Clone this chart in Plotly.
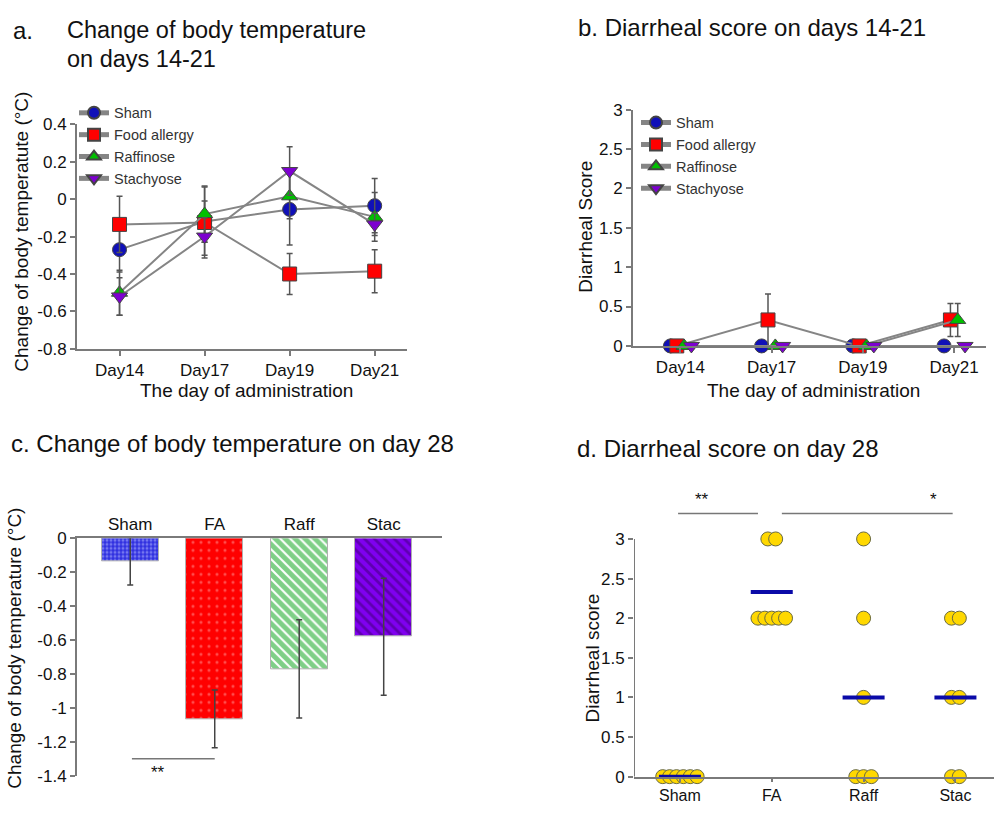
import plotly.graph_objects as go

# ---------------- data ----------------
days = ["Day14", "Day17", "Day19", "Day21"]
series_names = ["Sham", "Food allergy", "Raffinose", "Stachyose"]

# panel a: change of body temperature, days 14-21
temp_sham = [-0.27, -0.12, -0.055, -0.035]
temp_sham_err = [0.12, 0.11, 0.19, 0.145]
temp_fa = [-0.135, -0.125, -0.40, -0.385]
temp_fa_err = [0.15, 0.19, 0.11, 0.115]
temp_raff = [-0.50, -0.08, 0.015, -0.095]
temp_raff_err = [0.12, 0.15, 0.12, 0.13]
temp_stac = [-0.52, -0.20, 0.15, -0.135]
temp_stac_err = [0.10, 0.10, 0.13, 0.06]

# panel b: diarrheal score, days 14-21
score_sham = [0, 0, 0, 0]
score_sham_err = [0, 0, 0, 0]
score_fa = [0, 0.33, 0, 0.33]
score_fa_err = [0, 0.33, 0, 0.21]
score_raff = [0, 0, 0, 0.33]
score_raff_err = [0, 0, 0, 0.21]
score_stac = [0, 0, 0, 0]
score_stac_err = [0, 0, 0, 0]

# panel c: change of body temperature on day 28
groups = ["Sham", "FA", "Raff", "Stac"]
temp28 = [-0.135, -1.065, -0.77, -0.58]
temp28_err = [0.14, 0.17, 0.29, 0.345]

# panel d: diarrheal score on day 28 (individual animals)
d28_sham = [0, 0, 0, 0, 0, 0]
d28_fa = [3, 3, 2, 2, 2, 2, 2]
d28_raff = [3, 2, 1, 0, 0, 0]
d28_stac = [2, 2, 1, 1, 0, 0]
d28_mean = [0, 2.33, 1.0, 1.0]

# ---------------- style ----------------
FONT = "Liberation Sans, Arial, sans-serif"
TXT = "#111111"
AX = "#7a7a7a"
colors = ["#1010b8", "#ff0000", "#00c000", "#7d00d0"]
symbols = ["circle", "square", "triangle-up", "triangle-down"]
W, H = 994, 813


def px_x(p):
    return p / W


def px_y(p):
    return 1 - p / H


fig = go.Figure()

# panel a traces
temps = [temp_sham, temp_fa, temp_raff, temp_stac]
temps_err = [temp_sham_err, temp_fa_err, temp_raff_err, temp_stac_err]
for i in range(4):
    fig.add_trace(go.Scatter(
        x=list(range(len(days))), y=temps[i], name=series_names[i],
        mode="lines+markers", xaxis="x", yaxis="y", legend="legend",
        line=dict(color="#858585", width=2),
        marker=dict(symbol=symbols[i], size=14, color=colors[i],
                    line=dict(color="#444444", width=1)),
        error_y=dict(type="data", array=temps_err[i], color="#555555",
                     thickness=1.5, width=3),
        cliponaxis=False,
    ))

# panel b traces
scores = [score_sham, score_fa, score_raff, score_stac]
scores_err = [score_sham_err, score_fa_err, score_raff_err, score_stac_err]
offs_b = [-0.11, -0.04, 0.04, 0.12]
for i in range(4):
    fig.add_trace(go.Scatter(
        x=[k + offs_b[i] for k in range(len(days))], y=scores[i], name=series_names[i],
        mode="lines+markers", xaxis="x2", yaxis="y2", legend="legend2",
        line=dict(color="#858585", width=2),
        marker=dict(symbol=symbols[i], size=14, color=colors[i],
                    line=dict(color="#444444", width=1)),
        error_y=dict(type="data", array=scores_err[i], color="#555555",
                     thickness=1.5, width=3),
        cliponaxis=False,
    ))

# panel c bars
patterns = [
    dict(shape=".", bgcolor="#3030e0", fgcolor="#b8bcff", size=4, solidity=0.45),
    dict(shape=".", bgcolor="#ff0000", fgcolor="#ff9a9a", size=8, solidity=0.12),
    dict(shape="\\", bgcolor="#ffffff", fgcolor="#00a010", size=7, solidity=0.72),
    dict(shape="\\", bgcolor="#8000f0", fgcolor="#3c0070", size=7, solidity=0.4),
]
bar_colors = ["#3030e0", "#ff0000", "#00a010", "#8000f0"]
for i in range(4):
    fig.add_trace(go.Bar(
        x=[i], y=[temp28[i]], xaxis="x3", yaxis="y3", showlegend=False,
        width=0.67,
        marker=dict(color=bar_colors[i], pattern=patterns[i],
                    line=dict(color="#b0b0b0", width=1)),
        error_y=dict(type="data", array=[temp28_err[i]], color="#444444",
                     thickness=1.5, width=3),
    ))

# panel d scatter (beeswarm-like spreading of equal values)
d28 = [d28_sham, d28_fa, d28_raff, d28_stac]
xs, ys = [], []
for gi, vals in enumerate(d28):
    uniq = sorted(set(vals))
    for u in uniq:
        k = vals.count(u)
        step = 0.085 if k < 5 else 0.075
        for j in range(k):
            xs.append(gi + (j - (k - 1) / 2) * step)
            ys.append(u)
fig.add_trace(go.Scatter(
    x=xs, y=ys, mode="markers", xaxis="x4", yaxis="y4", showlegend=False,
    marker=dict(symbol="circle", size=14, color="#ffd800",
                line=dict(color="#6a6a40", width=1)),
    cliponaxis=False,
))
fig.add_trace(go.Scatter(
    x=list(range(len(groups))), y=d28_mean, mode="markers", xaxis="x4", yaxis="y4",
    showlegend=False,
    marker=dict(symbol="line-ew", size=30, color="#0a0aa8",
                line=dict(color="#0a0aa8", width=4)),
    cliponaxis=False,
))


def tick_list(start, stop, step):
    vals = []
    n = int(round((stop - start) / step))
    for k in range(n + 1):
        v = round(start + k * step, 6)
        if abs(v) < 1e-9:
            v = 0.0
        vals.append(v)
    return vals


def fmt(v):
    return "0" if v == 0 else f"{v:g}"


ya_vals = tick_list(-0.8, 0.4, 0.2)
yb_vals = tick_list(0, 3, 0.5)
yc_vals = tick_list(-1.4, 0, 0.2)
yd_vals = tick_list(0, 3, 0.5)

tickfont = dict(family=FONT, size=17, color=TXT)
common_y = dict(showline=True, linecolor=AX, linewidth=2, ticks="outside",
                tickcolor=AX, ticklen=5, tickwidth=1.5, showgrid=False,
                zeroline=False, tickfont=tickfont, fixedrange=True)
common_x = dict(showline=True, linecolor=AX, linewidth=2, ticks="outside",
                tickcolor=AX, ticklen=5, tickwidth=1.5, showgrid=False,
                zeroline=False, tickfont=tickfont, fixedrange=True)

fig.update_layout(
    width=W, height=H, margin=dict(l=0, r=0, t=0, b=0),
    paper_bgcolor="white", plot_bgcolor="white",
    font=dict(family=FONT, color=TXT),
    bargap=0,
    # panel a
    xaxis=dict(common_x, domain=[px_x(77), px_x(407)], range=[-0.5, 3.38],
               anchor="y", tickvals=list(range(len(days))), ticktext=days),
    yaxis=dict(common_y, domain=[px_y(348), px_y(118)], range=[-0.8, 0.4],
               anchor="x", tickvals=ya_vals, ticktext=[fmt(v) for v in ya_vals]),
    # panel b
    xaxis2=dict(common_x, domain=[px_x(633), px_x(986)], range=[-0.52, 3.35],
                anchor="y2", tickvals=list(range(len(days))), ticktext=days),
    yaxis2=dict(common_y, domain=[px_y(345), px_y(103)], range=[0, 3],
                anchor="x2", tickvals=yb_vals, ticktext=[fmt(v) for v in yb_vals]),
    # panel c
    xaxis3=dict(common_x, domain=[px_x(77), px_x(442)], range=[-0.63, 3.69],
                anchor="y3", side="top", ticks="", tickvals=list(range(len(groups))),
                ticktext=groups),
    yaxis3=dict(common_y, domain=[px_y(785), px_y(542)], range=[-1.4, 0],
                anchor="x3", tickvals=yc_vals, ticktext=[fmt(v) for v in yc_vals]),
    # panel d
    xaxis4=dict(common_x, domain=[px_x(634), 1.0], range=[-0.5, 3.42],
                anchor="y4", tickvals=list(range(len(groups))), ticktext=groups,
                ticklen=3, tickfont=dict(family=FONT, size=16, color=TXT)),
    yaxis4=dict(common_y, domain=[px_y(786), px_y(498)], range=[0, 3.55],
                anchor="x4", showline=False, tickvals=yd_vals,
                ticktext=[fmt(v) for v in yd_vals]),
    legend=dict(x=px_x(74), y=px_y(90), xanchor="left", yanchor="top",
                bgcolor="rgba(0,0,0,0)", font=dict(family=FONT, size=14.5, color="#333"),
                tracegroupgap=0, itemsizing="constant"),
    legend2=dict(x=px_x(636), y=px_y(100), xanchor="left", yanchor="top",
                 bgcolor="rgba(0,0,0,0)", font=dict(family=FONT, size=14.5, color="#333"),
                 tracegroupgap=0, itemsizing="constant"),
)

# panel d: y axis line only from 0 to 3, and significance bars
shapes = [
    dict(type="line", xref="x4", yref="y4", x0=-0.5, x1=-0.5, y0=0, y1=3,
         line=dict(color=AX, width=2)),
    dict(type="line", xref="x4", yref="y4", x0=-0.02, x1=0.85, y0=3.32, y1=3.32,
         line=dict(color="#777777", width=1.5)),
    dict(type="line", xref="x4", yref="y4", x0=1.11, x1=2.97, y0=3.32, y1=3.32,
         line=dict(color="#777777", width=1.5)),
    dict(type="line", xref="x3", yref="y3", x0=0.02, x1=1.0, y0=-1.3, y1=-1.3,
         line=dict(color="#777777", width=1.5)),
]
fig.update_layout(shapes=shapes)

ann = []


def add_text(text, x, y, size, xanchor="left", textangle=0, xref="paper", yref="paper"):
    ann.append(dict(text=text, x=x, y=y, xref=xref, yref=yref, showarrow=False,
                    xanchor=xanchor, yanchor="middle", textangle=textangle,
                    font=dict(family=FONT, size=size, color=TXT)))


# panel titles
add_text("a.", px_x(11), px_y(22), 24)
add_text("Change of body temperature", px_x(65), px_y(21), 23.5)
add_text("on days 14-21", px_x(65), px_y(51), 23.5)
add_text("b. Diarrheal score on days 14-21", px_x(576), px_y(19), 24)
add_text("c. Change of body temperature on day 28", px_x(9), px_y(445), 24)
add_text("d. Diarrheal score on day 28", px_x(575), px_y(450), 24)

# axis titles
add_text("Change of body temperatute (°C)", px_x(22), px_y(228), 19, "center", -90)
add_text("The day of administration", px_x(246), px_y(391), 19, "center")
add_text("Diarrheal Score", px_x(586), px_y(223), 19, "center", -90)
add_text("The day of administration", px_x(813), px_y(391), 19, "center")
add_text("Change of body temperature (°C)", px_x(15), px_y(655), 19, "center", -90)
add_text("Diarrheal score", px_x(592), px_y(665), 19, "center", -90)

# significance marks
add_text("**", 0.33, -1.38, 17, "center", xref="x3", yref="y3")
add_text("**", 0.24, 3.5, 17, "center", xref="x4", yref="y4")
add_text("*", 2.76, 3.5, 17, "center", xref="x4", yref="y4")

fig.update_layout(annotations=ann)

fig.write_html("out.html", config={"displayModeBar": False},
               post_script="document.body.style.margin='0';")
